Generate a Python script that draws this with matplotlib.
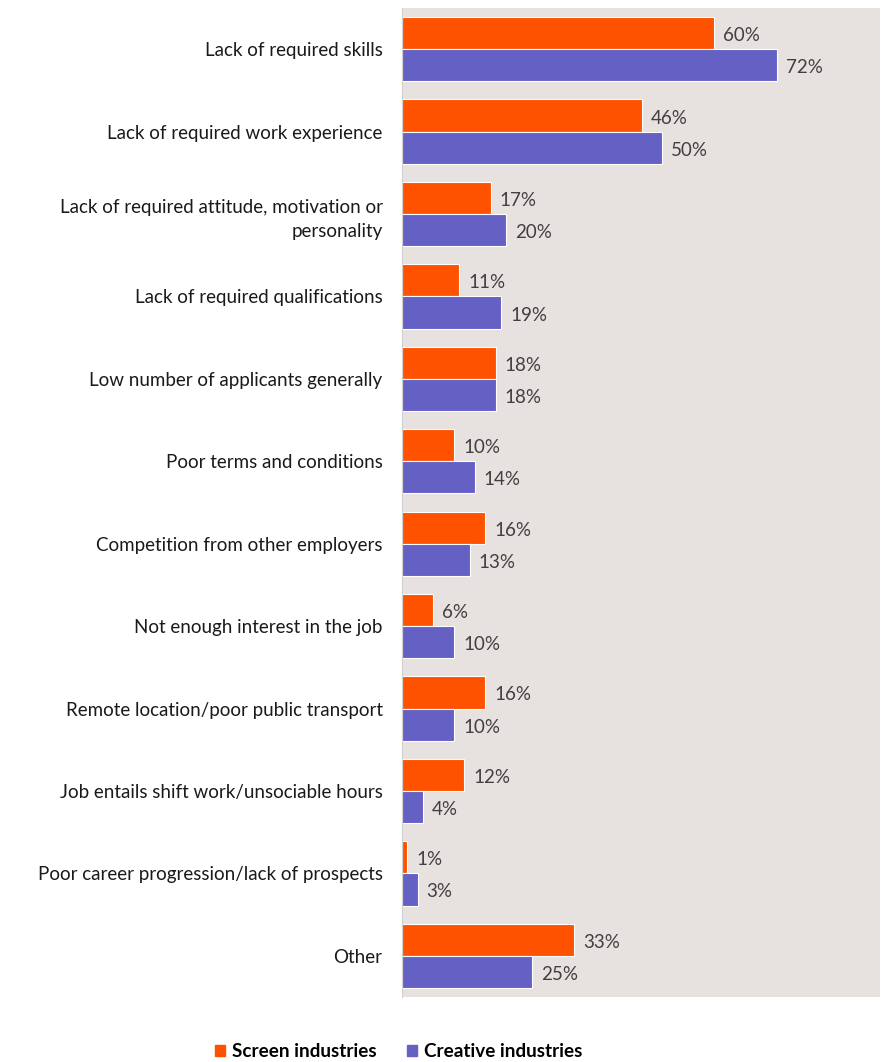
import matplotlib
matplotlib.use("Agg")
import matplotlib.pyplot as plt
import numpy as np

categories = [
    "Lack of required skills",
    "Lack of required work experience",
    "Lack of required attitude, motivation or\npersonality",
    "Lack of required qualifications",
    "Low number of applicants generally",
    "Poor terms and conditions",
    "Competition from other employers",
    "Not enough interest in the job",
    "Remote location/poor public transport",
    "Job entails shift work/unsociable hours",
    "Poor career progression/lack of prospects",
    "Other",
]
screen = [60, 46, 17, 11, 18, 10, 16, 6, 16, 12, 1, 33]
creative = [72, 50, 20, 19, 18, 14, 13, 10, 10, 4, 3, 25]
series_names = ["Screen industries", "Creative industries"]

ORANGE = "#FF5200"
PURPLE = "#6460C4"
BG = "#E7E2DF"
FONT = "Lato"

fig = plt.figure(figsize=(8.89, 10.62), dpi=100)
ax = fig.add_axes([0.4522, 0.0612, 0.5377, 0.9313])
ax.set_facecolor(BG)

n = len(categories)
y = np.arange(n)
h = 0.39
b1 = ax.barh(y - h / 2, screen, height=h, color=ORANGE, edgecolor="white", linewidth=0.8, label=series_names[0])
b2 = ax.barh(y + h / 2, creative, height=h, color=PURPLE, edgecolor="white", linewidth=0.8, label=series_names[1])

for bars, vals in ((b1, screen), (b2, creative)):
    for bar, v in zip(bars, vals):
        ax.annotate(f"{v}%", xy=(bar.get_width(), bar.get_y() + bar.get_height() / 2),
                    xytext=(6.5, -1.8), textcoords="offset points",
                    va="center", ha="left", fontsize=13.5, color="#404040", family=FONT)

ax.set_ylim(n - 0.5, -0.5)
ax.set_xlim(0, 91.8)
ax.set_yticks(y)
ax.set_yticklabels(categories, fontsize=13.5, family=FONT, color="#1a1a1a", ha="right",
                   multialignment="right", linespacing=1.55)
ax.tick_params(axis="y", length=0, pad=14)
ax.set_xticks([])
for s in ("top", "right", "bottom"):
    ax.spines[s].set_visible(False)
ax.spines["left"].set_color("#d0d0d0")
ax.spines["left"].set_linewidth(0.8)

handles = [plt.Rectangle((0, 0), 1, 1, color=ORANGE), plt.Rectangle((0, 0), 1, 1, color=PURPLE)]
fig.legend(handles, series_names, loc="center", bbox_to_anchor=(0.448, 0.010), ncol=2, frameon=False,
           prop={"family": FONT, "weight": "bold", "size": 13.6}, handlelength=0.55, handleheight=0.55,
           handletextpad=0.35, columnspacing=1.6)

fig.savefig("out.png", dpi=100, facecolor="white")
